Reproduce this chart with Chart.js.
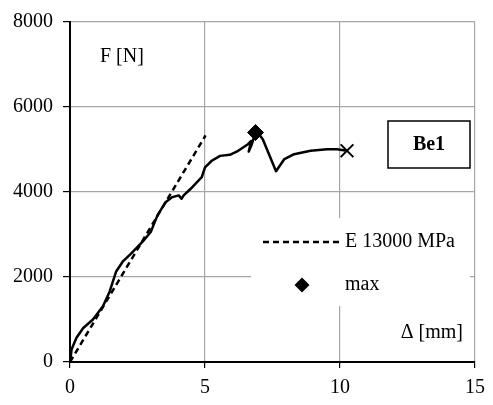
<!DOCTYPE html>
<html>
<head>
<meta charset="utf-8">
<script src="https://cdn.jsdelivr.net/npm/chart.js@4/dist/chart.umd.min.js"></script>
<style>
  html, body { margin: 0; padding: 0; background: #fff; }
  #wrap { width: 493px; height: 405px; }
</style>
</head>
<body>
<div id="wrap"><canvas id="beam"></canvas></div>
<script>
// measured curve, displacement [mm] vs force [N]
var dispMeasured = [0, 0.06, 0.24, 0.49, 0.85, 1.22, 1.47, 1.71, 1.95, 2.26, 2.69, 2.99, 3.24, 3.54, 3.79, 4.03, 4.13, 4.21, 4.46, 4.88, 5.0, 5.25, 5.56, 5.92, 6.23, 6.59, 6.71, 6.62, 6.72, 6.80, 6.95, 7.14, 7.63, 7.94, 8.3, 8.91, 9.52, 9.89, 10.26];
var forceMeasured = [0, 300, 570, 800, 1000, 1310, 1660, 2130, 2360, 2550, 2830, 3060, 3450, 3760, 3880, 3920, 3840, 3920, 4070, 4350, 4580, 4735, 4850, 4875, 4970, 5125, 5200, 4950, 5100, 5260, 5400, 5240, 4490, 4775, 4890, 4970, 5005, 5005, 4970];

// elastic line E 13000 MPa
var dispElastic = [0, 5.02];
var forceElastic = [0, 5330];

// maximum and end point
var dispMax = [6.87];
var forceMax = [5400];
var dispEnd = [10.26];
var forceEnd = [4970];

var xTicks = [0, 5, 10, 15];
var yTicks = [0, 2000, 4000, 6000, 8000];

var specimen = 'Be1';
var yTitle = 'F [N]';
var xTitle = '\u0394 [mm]';

function pts(xs, ys) {
	var out = [];
	for (var i = 0; i < xs.length; i++) out.push({x: xs[i], y: ys[i]});
	return out;
}

var serif = '"Liberation Serif", "Times New Roman", serif';
Chart.defaults.font.family = serif;
Chart.defaults.color = '#000';

// white legend panel, text labels and the specimen box inside the plot
var annotations = {
	id: 'annotations',
	beforeDatasetsDraw: function(chart) {
		var ctx = chart.ctx, a = chart.chartArea;
		var ds = chart.data.datasets;
		ctx.save();
		// legend panel hides the gridlines under it
		ctx.fillStyle = '#fff';
		ctx.fillRect(a.left + 181, a.top + 196, 219, 88);

		ctx.font = '20px ' + serif;
		ctx.fillStyle = '#000';
		ctx.textBaseline = 'middle';

		// dashed entry
		var ly = a.top + 220;
		ctx.strokeStyle = '#000';
		ctx.lineWidth = 2.5;
		ctx.setLineDash([6, 4]);
		ctx.beginPath();
		ctx.moveTo(a.left + 193, ly);
		ctx.lineTo(a.left + 273, ly);
		ctx.stroke();
		ctx.setLineDash([]);
		ctx.fillText(ds[1].label, a.left + 275, ly);

		// diamond entry
		var my = a.top + 263;
		var mx = a.left + 232;
		ctx.beginPath();
		ctx.moveTo(mx, my - 7.5);
		ctx.lineTo(mx + 7.5, my);
		ctx.lineTo(mx, my + 7.5);
		ctx.lineTo(mx - 7.5, my);
		ctx.closePath();
		ctx.fill();
		ctx.fillText(ds[2].label, a.left + 275, my);

		// axis titles
		ctx.textAlign = 'left';
		ctx.fillText(yTitle, a.left + 30, a.top + 35);
		ctx.textAlign = 'right';
		ctx.fillText(xTitle, a.left + 393, a.top + 311);

		// specimen box
		ctx.fillStyle = '#fff';
		ctx.fillRect(a.left + 318, a.top + 99, 82, 47);
		ctx.lineWidth = 1.5;
		ctx.strokeRect(a.left + 318, a.top + 99, 82, 47);
		ctx.fillStyle = '#000';
		ctx.font = 'bold 20px ' + serif;
		ctx.textAlign = 'center';
		ctx.fillText(specimen, a.left + 359, a.top + 123);
		ctx.restore();
	}
};

new Chart('beam', {
	type: 'scatter',
	data: {
		datasets: [{
			label: 'measured',
			data: pts(dispMeasured, forceMeasured),
			showLine: true,
			borderColor: '#000',
			borderWidth: 2.5,
			borderJoinStyle: 'round',
			pointRadius: 0
		}, {
			label: 'E 13000 MPa',
			data: pts(dispElastic, forceElastic),
			showLine: true,
			borderColor: '#000',
			borderWidth: 2.5,
			borderDash: [6, 4],
			pointRadius: 0
		}, {
			label: 'max',
			data: pts(dispMax, forceMax),
			pointStyle: 'rectRot',
			pointRadius: 8,
			backgroundColor: '#000',
			borderColor: '#000'
		}, {
			label: 'end',
			data: pts(dispEnd, forceEnd),
			pointStyle: 'crossRot',
			pointRadius: 9,
			borderColor: '#000',
			borderWidth: 2
		}]
	},
	options: {
		responsive: true,
		maintainAspectRatio: false,
		animation: false,
		layout: {padding: {top: 17, right: 12, left: 0, bottom: 0}},
		plugins: {legend: {display: false}, tooltip: {enabled: false}},
		scales: {
			x: {
				type: 'linear',
				min: 0, max: 15,
				afterBuildTicks: function(s) { s.ticks = xTicks.map(function(v) { return {value: v}; }); },
				afterFit: function(s) { s.height = 43; },
				ticks: {font: {size: 20}, padding: 8, maxRotation: 0, callback: function(v) { return String(v); }},
				grid: {color: '#a6a6a6', lineWidth: 1.2, tickColor: '#000', tickLength: 6},
				border: {color: '#000', width: 2}
			},
			y: {
				type: 'linear',
				min: 0, max: 8000,
				afterBuildTicks: function(s) { s.ticks = yTicks.map(function(v) { return {value: v}; }); },
				afterFit: function(s) { s.width = 70; },
				ticks: {font: {size: 20}, padding: 10, callback: function(v) { return String(v); }},
				grid: {color: '#a6a6a6', lineWidth: 1.2, tickColor: '#000', tickLength: 7},
				border: {color: '#000', width: 2}
			}
		}
	},
	plugins: [annotations]
});
</script>
</body>
</html>
